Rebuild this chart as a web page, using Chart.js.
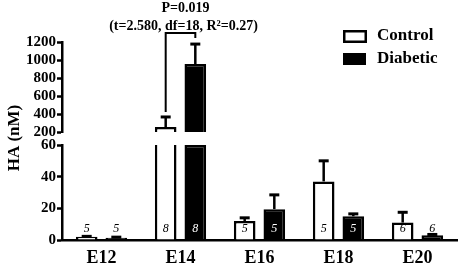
<!DOCTYPE html>
<html>
<head>
<meta charset="utf-8">
<script src="https://cdn.jsdelivr.net/npm/chart.js@4.4.1/dist/chart.umd.min.js"></script>
<style>
html, body { margin: 0; padding: 0; background: #fff; }
#wrap { position: relative; width: 461px; height: 266px; }
#wrap canvas { position: absolute; left: 0; top: 0; }
</style>
</head>
<body>
<div id="wrap">
  <canvas id="low" width="461" height="266"></canvas>
  <canvas id="high" width="461" height="266"></canvas>
</div>
<script>
// data
var categories   = ['E12', 'E14', 'E16', 'E18', 'E20'];
var controlMean  = [2, 255, 12, 37, 11];
var controlErr   = [0.3, 112, 2, 13, 6.5];
var diabeticMean = [1.5, 955, 19.5, 15, 3];
var diabeticErr  = [0.3, 222, 9, 1.5, 0.5];
var controlN     = [5, 8, 5, 5, 6];
var diabeticN    = [5, 8, 5, 5, 6];
var lowTicks  = [0, 20, 40, 60];
var highTicks = [200, 400, 600, 800, 1000, 1200];
var pText  = 'P=0.019';
var tText  = '(t=2.580, df=18, R\u00b2=0.27)';
var yTitle = 'HA (nM)';

var serif = '"Liberation Serif", "Times New Roman", serif';
var lowMax = lowTicks[lowTicks.length - 1];
var highMin = highTicks[0];
Chart.defaults.color = '#000';
Chart.defaults.font.family = serif;

function lowPart(arr) { return arr.map(function (v) { return Math.min(v, lowMax); }); }
function highPart(arr) { return arr.map(function (v) { return v > highMin ? [highMin, v] : null; }); }

function makeSets(part) {
  return [{
    label: 'Control',
    data: part(controlMean), means: controlMean, errs: controlErr, ns: controlN,
    backgroundColor: '#fff', borderColor: '#000',
    borderWidth: function (c) { return controlMean[c.dataIndex] > lowMax && part === lowPart ? {left: 2.5, right: 2.5, top: 0, bottom: 0} : 2.5; },
    categoryPercentage: 0.75, barPercentage: 0.73
  }, {
    label: 'Diabetic',
    data: part(diabeticMean), means: diabeticMean, errs: diabeticErr, ns: diabeticN,
    backgroundColor: '#000', borderColor: '#000', borderWidth: 2.5,
    categoryPercentage: 0.75, barPercentage: 0.73
  }];
}

var errorBars = {
  id: 'errorBars',
  afterDatasetsDraw: function (chart) {
    var ctx = chart.ctx, y = chart.scales.y;
    ctx.save();
    ctx.strokeStyle = '#000';
    chart.data.datasets.forEach(function (ds, i) {
      chart.getDatasetMeta(i).data.forEach(function (bar, j) {
        var m = ds.means[j];
        if (m < y.min || m > y.max) return;
        var top = y.getPixelForValue(m + ds.errs[j]);
        var base = y.getPixelForValue(m);
        ctx.lineWidth = 2.5;
        ctx.beginPath(); ctx.moveTo(bar.x, base); ctx.lineTo(bar.x, top); ctx.stroke();
        ctx.lineWidth = 3;
        ctx.beginPath(); ctx.moveTo(bar.x - 5, top); ctx.lineTo(bar.x + 5, top); ctx.stroke();
      });
    });
    ctx.restore();
  }
};

var nLabels = {
  id: 'nLabels',
  afterDatasetsDraw: function (chart) {
    var ctx = chart.ctx, y = chart.scales.y;
    var base = y.getPixelForValue(0);
    ctx.save();
    ctx.font = 'italic 12px ' + serif;
    ctx.textAlign = 'center';
    ctx.textBaseline = 'middle';
    chart.data.datasets.forEach(function (ds, i) {
      chart.getDatasetMeta(i).data.forEach(function (bar, j) {
        var ty = base - 11;
        var covered = bar.y < ty - 7;
        ctx.fillStyle = (i === 1 && covered) ? '#fff' : '#000';
        ctx.fillText(String(ds.ns[j]), bar.x, ty);
      });
    });
    ctx.restore();
  }
};

var extras = {
  id: 'extras',
  afterDraw: function (chart) {
    var ctx = chart.ctx, y = chart.scales.y;
    var c = chart.getDatasetMeta(0).data[1], d = chart.getDatasetMeta(1).data[1];
    var cTop = y.getPixelForValue(controlMean[1] + controlErr[1]);
    var dTop = y.getPixelForValue(diabeticMean[1] + diabeticErr[1]);
    var by = Math.min(cTop, dTop) - 11;
    ctx.save();
    ctx.strokeStyle = '#000';
    ctx.lineWidth = 2;
    ctx.beginPath();
    ctx.moveTo(c.x, cTop - 5); ctx.lineTo(c.x, by);
    ctx.lineTo(d.x, by); ctx.lineTo(d.x, dTop - 6);
    ctx.stroke();

    ctx.fillStyle = '#000';
    ctx.font = 'bold 14px ' + serif;
    ctx.textAlign = 'center';
    ctx.textBaseline = 'middle';
    var cx = (c.x + d.x) / 2 + 4;
    ctx.fillText(pText, cx + 1, 8);
    ctx.fillText(tText, cx - 1, 26);

    // legend
    ctx.lineWidth = 2.5;
    ctx.fillStyle = '#fff';
    ctx.fillRect(344, 31, 21, 10);
    ctx.strokeRect(344.25, 31.25, 21.5, 10.5);
    ctx.fillStyle = '#000';
    ctx.fillRect(343, 53, 23, 12);
    ctx.font = 'bold 17px ' + serif;
    ctx.textAlign = 'left';
    ctx.fillText(chart.data.datasets[0].label, 377, 36);
    ctx.fillText(chart.data.datasets[1].label, 377, 59);

    // y title
    ctx.translate(15, 138);
    ctx.rotate(-Math.PI / 2);
    ctx.textAlign = 'center';
    ctx.fillText(yTitle, 0, 0);
    ctx.restore();
  }
};

function yScale(ticks) {
  return {
    min: ticks[0], max: ticks[ticks.length - 1],
    afterBuildTicks: function (s) { s.ticks = ticks.map(function (v) { return {value: v}; }); },
    afterFit: function (s) { s.width = 62; },
    grid: { drawOnChartArea: false, drawTicks: true, tickLength: 5, tickWidth: 2.5, color: '#000' },
    border: { display: true, width: 2.5, color: '#000' },
    ticks: {
      autoSkip: false, padding: 1, color: '#000',
      callback: function (v) { return String(v); },
      font: { family: serif, size: 15, weight: 'bold' }
    }
  };
}

new Chart(document.getElementById('low'), {
  type: 'bar',
  data: { labels: categories, datasets: makeSets(lowPart) },
  options: {
    responsive: false, animation: false,
    layout: { padding: { top: 145, right: 4, left: 0, bottom: 0 } },
    plugins: { legend: { display: false }, tooltip: { enabled: false } },
    scales: {
      x: {
        afterFit: function (s) { s.height = 26; },
        grid: { display: false },
        border: { display: true, width: 2.5, color: '#000' },
        ticks: { padding: 0, color: '#000', font: { family: serif, size: 18, weight: 'bold' } }
      },
      y: yScale(lowTicks)
    }
  },
  plugins: [errorBars, nLabels]
});

new Chart(document.getElementById('high'), {
  type: 'bar',
  data: { labels: categories, datasets: makeSets(highPart) },
  options: {
    responsive: false, animation: false,
    layout: { padding: { top: 42, right: 4, left: 0, bottom: 134 } },
    plugins: { legend: { display: false }, tooltip: { enabled: false } },
    scales: {
      x: { display: false },
      y: yScale(highTicks)
    }
  },
  plugins: [errorBars, extras]
});
</script>
</body>
</html>
